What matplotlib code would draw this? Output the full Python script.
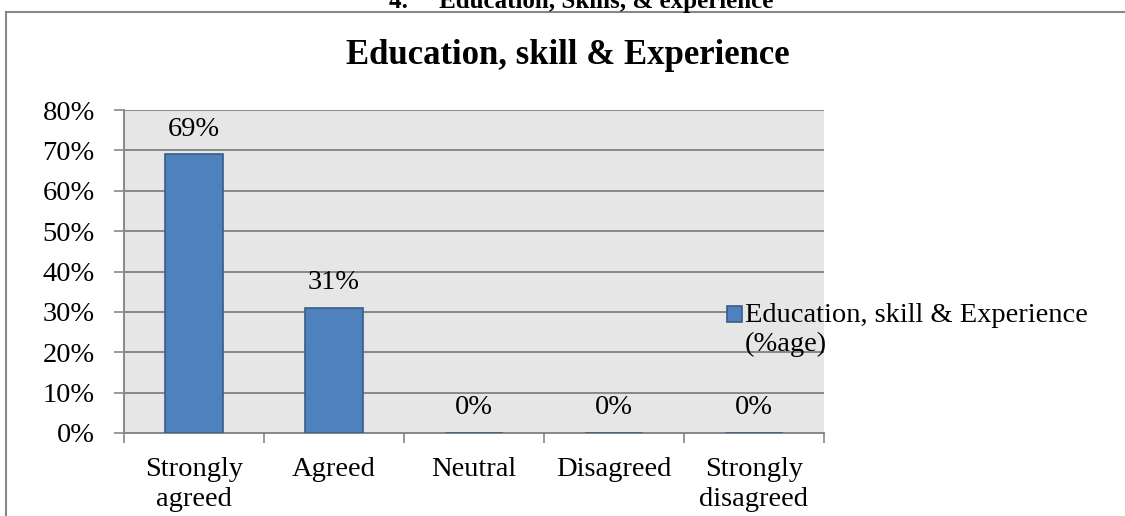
import matplotlib.pyplot as plt
from matplotlib.lines import Line2D
from matplotlib.patches import Rectangle

categories = ["Strongly\nagreed", "Agreed", "Neutral", "Disagreed", "Strongly\ndisagreed"]
values = [0.69, 0.31, 0.0, 0.0, 0.0]
labels = ["69%", "31%", "0%", "0%", "0%"]
yticks = [0, 0.1, 0.2, 0.3, 0.4, 0.5, 0.6, 0.7, 0.8]
series_name = "Education, skill & Experience\n(%age)"

plt.rcParams['font.family'] = ['Liberation Serif', 'DejaVu Serif']

W, H = 1125, 516
fig = plt.figure(figsize=(W/100, H/100), dpi=100)
ax = fig.add_axes([124/W, 1 - 433/H, 700/W, 323/H])
ax.set_facecolor('#e6e6e6')

x = range(len(categories))
ax.bar(x, values, width=0.41, color='#4f81bd', edgecolor='#385d8a',
       linewidth=1.2, label=series_name, zorder=3)

# data labels above each bar
for i, v in enumerate(values):
    ax.annotate(labels[i], (i, v), xytext=(0, 18), textcoords='offset points',
                ha='center', va='center', fontsize=20.5)

ax.set_xlim(-0.5, len(categories) - 0.5)
ax.set_ylim(0, 0.8)
ax.set_yticks(yticks)
ax.set_yticklabels([f"{int(round(t*100))}%" for t in yticks], fontsize=20.5)
ax.set_xticks(x)
ax.set_xticklabels(categories, fontsize=20.5, linespacing=1.28)
ax.tick_params(axis='x', length=0, pad=17)
ax.tick_params(axis='y', length=7, color='#888888', width=1.2, pad=14)
# category boundary ticks
ax.set_xticks([i - 0.5 for i in range(len(categories) + 1)], minor=True)
ax.tick_params(axis='x', which='minor', length=7, color='#888888', width=1.2)

ax.grid(axis='y', color='#888888', linewidth=1.4, zorder=0)
ax.set_axisbelow(True)
for s in ['top', 'right']:
    ax.spines[s].set_visible(False)
for s in ['left', 'bottom']:
    ax.spines[s].set_color('#888888')
    ax.spines[s].set_linewidth(1.4)

# legend box hides the gridline behind it
ax.add_patch(Rectangle((0.862, 0.28), 0.2, 0.13, transform=ax.transAxes,
                       facecolor='#e6e6e6', edgecolor='none', zorder=1))

leg = ax.legend(loc='upper left', bbox_to_anchor=(727/W, 1 - 303/H),
                bbox_transform=fig.transFigure, frameon=False, fontsize=20.5,
                handlelength=0.52, handleheight=0.52, handletextpad=0.1,
                borderaxespad=0, borderpad=0)
# keep the square level with the first line of the label
handle = leg.legend_handles[0]
handle.set_y(handle.get_y() + 11)

fig.text(568/W, 1 - 55/H, "Education, skill & Experience", ha='center',
         va='center', fontsize=25, fontweight='bold')

# heading of the document, cut off by the picture edge
fig.text(581/W, 1 - 8/H, "4.     Education, Skills, & experience", ha='center',
         va='baseline', fontsize=18, fontweight='bold')

# chart frame
fig.add_artist(Line2D([6/W, 6/W], [0, 1 - 12/H], color='#888888', linewidth=1.5))
fig.add_artist(Line2D([6/W, 1], [1 - 12/H, 1 - 12/H], color='#888888', linewidth=1.5))

fig.savefig('out.png', dpi=100)
